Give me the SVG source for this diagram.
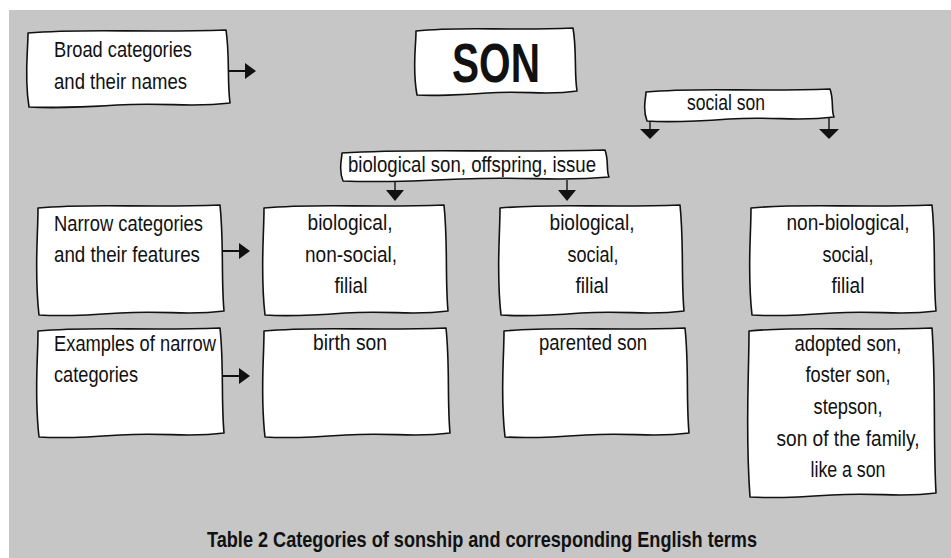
<svg xmlns="http://www.w3.org/2000/svg" width="951" height="558" viewBox="0 0 951 558">
<style>
.box{fill:#fff;stroke:#111;stroke-width:1.6;stroke-linejoin:round}
.t{font-family:"Liberation Sans",Arial,sans-serif;font-size:22.5px;fill:#111}
.c{text-anchor:middle}
.ln{stroke:#111;stroke-width:2;fill:none}
.ln2{stroke:#111;stroke-width:1.4;fill:none}
.ah{fill:#111}
</style>
<rect x="0" y="0" width="951" height="558" fill="#fff"/>
<rect x="9" y="10" width="942" height="548" fill="#c6c6c6"/>

<g id="broad">
<path class="box" d="M28 33 C87 28 138 33 226 30 C230 57 227 80 230 103 C189 108 168 102 117 105 C87 107 46 108 29 107 C24 76 28 53 28 33Z"/>
<text class="t" x="54" y="57" textLength="138" lengthAdjust="spacingAndGlyphs">Broad categories</text>
<text class="t" x="54" y="89" textLength="133" lengthAdjust="spacingAndGlyphs">and their names</text>
</g>

<g id="son">
<path class="box" d="M416 31 C463 26 503 31 573 28 C577 51 574 72 577 91 C544 96 527 90 487 93 C463 95 430 96 417 95 C412 68 416 48 416 31Z"/>
<text class="t c" x="496" y="82" style="font-size:55px;font-weight:bold" textLength="88" lengthAdjust="spacingAndGlyphs">SON</text>
</g>

<g id="social">
<path class="box" d="M646 92 C701 87 748 92 830 89 C834 100 831 110 834 117 C795 122 776 116 729 119 C701 121 663 122 647 121 C642 108 646 99 646 92Z"/>
<text class="t" x="687" y="110" textLength="78" lengthAdjust="spacingAndGlyphs">social son</text>
</g>

<g id="bio">
<path class="box" d="M342 153 C420 148 487 153 605 150 C609 161 606 171 609 177 C554 182 528 176 461 179 C420 181 367 182 343 181 C338 169 342 159 342 153Z"/>
<text class="t" x="348" y="172" textLength="248" lengthAdjust="spacingAndGlyphs">biological son, offspring, issue</text>
</g>

<g id="narrow">
<path class="box" d="M38 208 C92 203 139 208 220 205 C224 244 221 277 224 311 C186 316 167 310 120 313 C92 315 55 316 39 315 C34 271 38 238 38 208Z"/>
<text class="t" x="54" y="231" textLength="149" lengthAdjust="spacingAndGlyphs">Narrow categories</text>
<text class="t" x="54" y="262" textLength="146" lengthAdjust="spacingAndGlyphs">and their features</text>
</g>

<g id="feat1">
<path class="box" d="M264 208 C318 203 364 208 444 205 C448 244 445 277 448 311 C410 316 392 310 345 313 C318 315 281 316 265 315 C260 271 264 238 264 208Z"/>
<text class="t c" x="350" y="230" textLength="85" lengthAdjust="spacingAndGlyphs">biological,</text>
<text class="t c" x="351" y="262" textLength="92" lengthAdjust="spacingAndGlyphs">non-social,</text>
<text class="t c" x="351" y="293" textLength="33" lengthAdjust="spacingAndGlyphs">filial</text>
</g>

<g id="feat2">
<path class="box" d="M500 208 C554 203 600 208 680 205 C684 244 681 277 684 311 C646 316 628 310 581 313 C554 315 517 316 501 315 C496 271 500 238 500 208Z"/>
<text class="t c" x="592" y="230" textLength="85" lengthAdjust="spacingAndGlyphs">biological,</text>
<text class="t c" x="593" y="262" textLength="51" lengthAdjust="spacingAndGlyphs">social,</text>
<text class="t c" x="592" y="293" textLength="33" lengthAdjust="spacingAndGlyphs">filial</text>
</g>

<g id="feat3">
<path class="box" d="M751 208 C805 203 851 208 932 205 C936 244 933 277 936 311 C898 316 879 310 833 313 C805 315 768 316 752 315 C747 271 751 238 751 208Z"/>
<text class="t c" x="848" y="230" textLength="123" lengthAdjust="spacingAndGlyphs">non-biological,</text>
<text class="t c" x="848" y="262" textLength="51" lengthAdjust="spacingAndGlyphs">social,</text>
<text class="t c" x="848" y="293" textLength="33" lengthAdjust="spacingAndGlyphs">filial</text>
</g>

<g id="examples">
<path class="box" d="M38 331 C92 326 139 331 220 328 C224 366 221 399 224 433 C186 438 167 432 120 435 C92 437 55 438 39 437 C34 393 38 361 38 331Z"/>
<text class="t" x="54" y="351" textLength="162" lengthAdjust="spacingAndGlyphs">Examples of narrow</text>
<text class="t" x="54" y="382" textLength="84" lengthAdjust="spacingAndGlyphs">categories</text>
</g>

<g id="ex1">
<path class="box" d="M264 331 C318 326 365 331 446 328 C450 366 447 399 450 433 C412 438 393 432 346 435 C318 437 281 438 265 437 C260 393 264 361 264 331Z"/>
<text class="t c" x="350" y="350" textLength="74" lengthAdjust="spacingAndGlyphs">birth son</text>
</g>

<g id="ex2">
<path class="box" d="M504 331 C558 326 604 331 685 328 C689 366 686 399 689 433 C651 438 632 432 586 435 C558 437 521 438 505 437 C500 393 504 361 504 331Z"/>
<text class="t c" x="593" y="350" textLength="108" lengthAdjust="spacingAndGlyphs">parented son</text>
</g>

<g id="ex3">
<path class="box" d="M749 331 C803 326 850 331 932 328 C936 387 933 438 936 493 C898 498 879 492 832 495 C803 497 766 498 750 497 C745 429 749 379 749 331Z"/>
<text class="t c" x="848" y="351" textLength="107" lengthAdjust="spacingAndGlyphs">adopted son,</text>
<text class="t c" x="848" y="382" textLength="85" lengthAdjust="spacingAndGlyphs">foster son,</text>
<text class="t c" x="848" y="414" textLength="69" lengthAdjust="spacingAndGlyphs">stepson,</text>
<text class="t c" x="848" y="446" textLength="143" lengthAdjust="spacingAndGlyphs">son of the family,</text>
<text class="t c" x="848" y="477" textLength="75" lengthAdjust="spacingAndGlyphs">like a son</text>
</g>

<g id="connectors">
<line class="ln" x1="229" y1="71" x2="246" y2="71"/>
<polygon class="ah" points="245,63 256,71 245,79"/>
<line class="ln" x1="223" y1="251" x2="240" y2="251"/>
<polygon class="ah" points="239,243 250,251 239,259"/>
<line class="ln" x1="223" y1="376" x2="240" y2="376"/>
<polygon class="ah" points="239,368 250,376 239,384"/>
<line class="ln2" x1="650" y1="121" x2="650" y2="130"/>
<polygon class="ah" points="640,129 660,129 650,139"/>
<line class="ln2" x1="829" y1="118" x2="829" y2="130"/>
<polygon class="ah" points="819,129 839,129 829,139"/>
<line class="ln2" x1="395" y1="181" x2="395" y2="191"/>
<polygon class="ah" points="386,190 404,190 395,201"/>
<line class="ln2" x1="567" y1="180" x2="567" y2="191"/>
<polygon class="ah" points="558,190 576,190 567,201"/>
</g>

<text class="t c" x="482" y="547" style="font-weight:bold;font-size:22px" textLength="550" lengthAdjust="spacingAndGlyphs">Table 2 Categories of sonship and corresponding English terms</text>
</svg>
